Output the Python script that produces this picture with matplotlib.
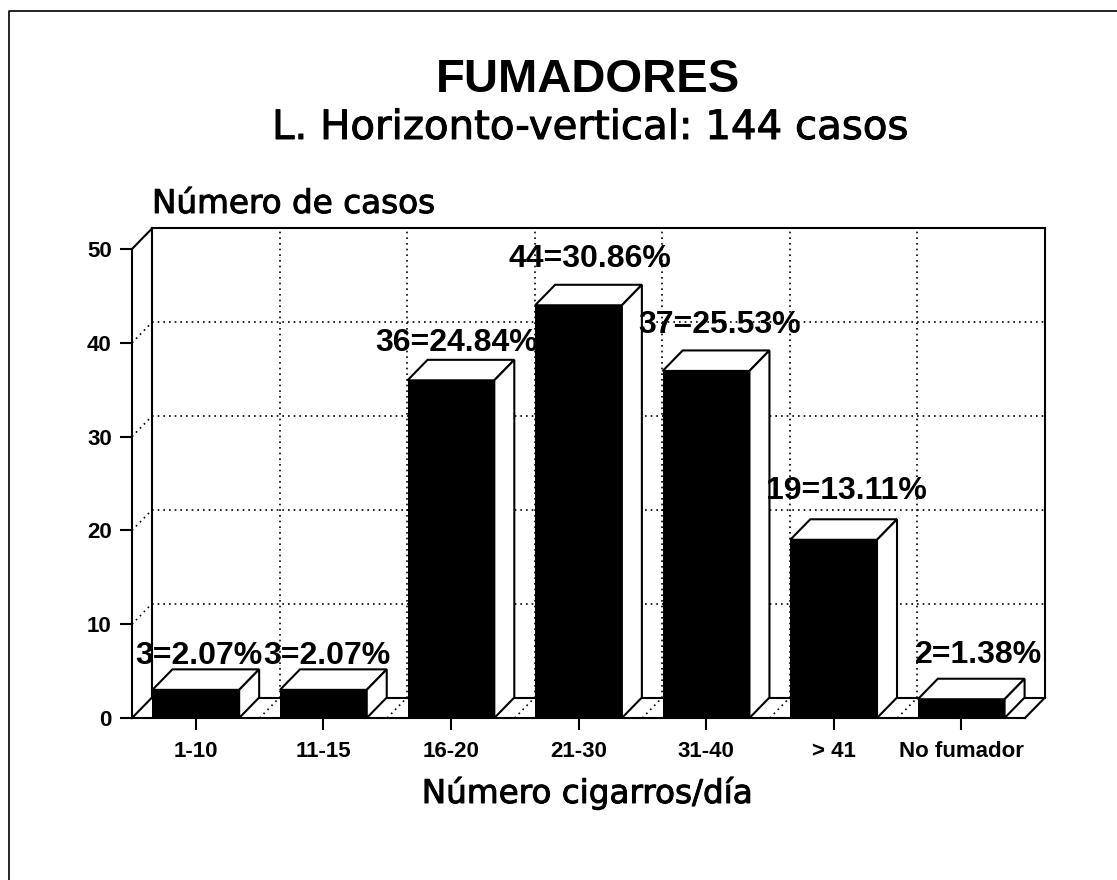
import matplotlib
matplotlib.use('Agg')
import matplotlib.pyplot as plt
import matplotlib.patheffects as pe
from matplotlib.lines import Line2D

plt.rcParams['font.family'] = ['Liberation Sans', 'DejaVu Sans']

# Data
categories = ['1-10', '11-15', '16-20', '21-30', '31-40', '> 41', 'No fumador']
casos = [3, 3, 36, 44, 37, 19, 2]
porcentajes = ['2.07', '2.07', '24.84', '30.86', '25.53', '13.11', '1.38']
y_ticks = [0, 10, 20, 30, 40, 50]

# Label nudges in pixels (right, up), from the bar centre and top
label_dx = [3, 4, 6, 11, 14, 13, 17]
label_dy = [26, 26, 29, 38, 38, 41, 36]

W, H = 1117, 880
fig = plt.figure(figsize=(W / 100, H / 100), dpi=100)
ax = fig.add_axes([132 / W, (H - 718) / H, (1025 - 132) / W, (718 - 249) / H])
ax.set_xlim(-0.5, 6.5)
ax.set_ylim(0, 50)

# Depth of the 3D look, in data units
dx = 20 / (893 / 7)
dy = 20.5 / (469 / 50)
lw = 1.5
dotted = dict(color='black', lw=1.2, ls=(0, (1, 2.4)), clip_on=False, zorder=1)
solid = dict(color='black', lw=lw, clip_on=False, zorder=2)

# Back wall, floor and left wall outlines
ax.plot([-0.5 + dx] * 2, [dy, 50 + dy], **solid)
ax.plot([6.5 + dx] * 2, [dy, 50 + dy], **solid)
ax.plot([-0.5 + dx, 6.5 + dx], [50 + dy] * 2, **solid)
ax.plot([-0.5 + dx, 6.5 + dx], [dy] * 2, **solid)
ax.plot([-0.5, -0.5 + dx], [50, 50 + dy], **solid)
ax.plot([6.5, 6.5 + dx], [0, dy], **solid)
ax.plot([-0.5, -0.5 + dx], [0, dy], **solid)

# Grid on the walls and floor
for t in y_ticks[1:-1]:
    ax.plot([-0.5 + dx, 6.5 + dx], [t + dy] * 2, **dotted)
    ax.plot([-0.5, -0.5 + dx], [t, t + dy], **dotted)
for i in range(1, 7):
    ax.plot([i - 0.5 + dx] * 2, [dy, 50 + dy], **dotted)
    ax.plot([i - 0.5, i - 0.5 + dx], [0, dy], **dotted)

# Bars: black front, white top and side
half = 0.34
for i, v in enumerate(casos):
    l, r = i - half, i + half
    ax.fill([l, r, r + dx, l + dx], [v, v, v + dy, v + dy], fc='white', ec='black', lw=lw, clip_on=False, zorder=3)
    ax.fill([r, r + dx, r + dx, r], [0, dy, v + dy, v], fc='white', ec='black', lw=lw, clip_on=False, zorder=3)
    ax.bar(i, v, width=half * 2, color='black', clip_on=False, zorder=4)
    ax.annotate(f'{v}={porcentajes[i]}%', (i, v), xytext=(label_dx[i] * 0.72, label_dy[i] * 0.72),
                textcoords='offset points', ha='center', va='baseline', fontsize=23,
                fontweight='bold', zorder=6, annotation_clip=False)

ax.set_xticks(range(7))
ax.set_xticklabels(categories, fontsize=16, fontweight='bold')
ax.set_yticks(y_ticks)
ax.set_yticklabels([str(t) for t in y_ticks], fontsize=16, fontweight='bold')
ax.tick_params(axis='both', length=8.5, width=lw, pad=8)
ax.tick_params(axis='y', pad=6)
for s in ['top', 'right']:
    ax.spines[s].set_visible(False)
for s in ['left', 'bottom']:
    ax.spines[s].set_linewidth(lw)
ax.patch.set_visible(False)

# Titles and axis names, the wide ones in DejaVu with a little stroke for weight
heavy = [pe.withStroke(linewidth=0.7, foreground='black')]
fig.text(588 / W, 1 - 92 / H, 'FUMADORES', ha='center', va='baseline', fontsize=34, fontweight='bold')
fig.text(590 / W, 1 - 139 / H, 'L. Horizonto-vertical: 144 casos', ha='center', va='baseline',
         fontsize=29, family='DejaVu Sans', path_effects=heavy)
fig.text(152 / W, 1 - 213 / H, 'Número de casos', ha='left', va='baseline', fontsize=23.5,
         family='DejaVu Sans', path_effects=heavy)
fig.text(587 / W, 1 - 803 / H, 'Número cigarros/día', ha='center', va='baseline', fontsize=23.5,
         family='DejaVu Sans', path_effects=heavy)

# Edge of the scanned page
fig.add_artist(Line2D([8.5 / W, 8.5 / W, 1], [0, 1 - 11 / H, 1 - 11 / H], color='black', lw=1.2))

fig.savefig('out.png', dpi=100)
